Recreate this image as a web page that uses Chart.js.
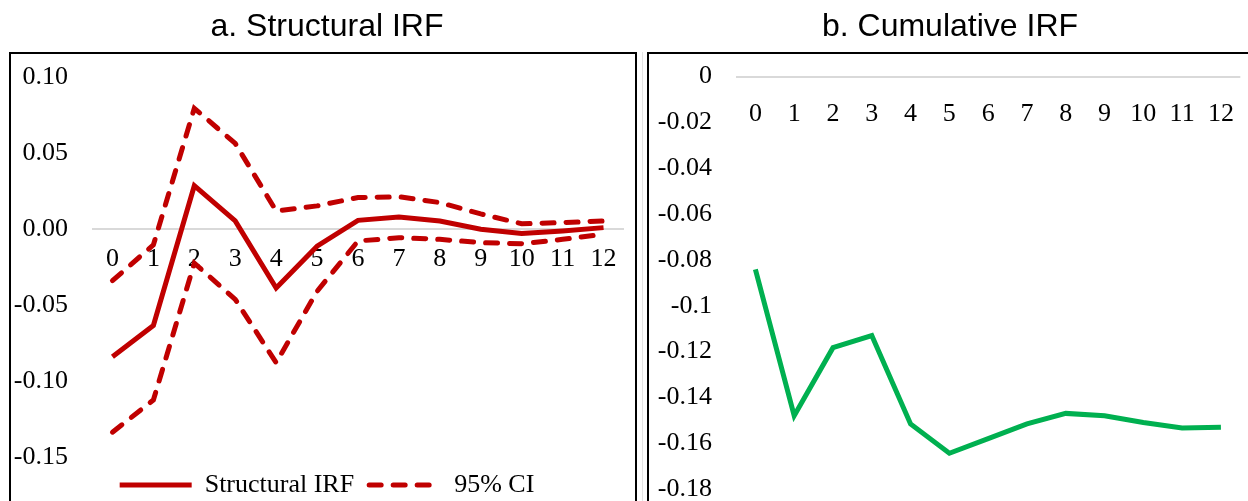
<!DOCTYPE html>
<html>
<head>
<meta charset="utf-8">
<script src="https://cdn.jsdelivr.net/npm/chart.js@4.4.1/dist/chart.umd.min.js"></script>
<style>
  body { margin: 0; background: #fff; overflow: hidden; }
  .wrap { position: absolute; top: 0; }
  .box { position: absolute; border: 2px solid #000; box-sizing: border-box; pointer-events: none; }
</style>
</head>
<body>
<div class="wrap" style="left:0; width:640px; height:508px;"><canvas id="structIrf"></canvas></div>
<div class="wrap" style="left:640px; width:608px; height:526px;"><canvas id="cumIrf"></canvas></div>
<div class="box" style="left:9px; top:52px; width:628px; height:480px;"></div>
<div class="box" style="left:647px; top:52px; width:620px; height:480px;"></div>
<div style="position:absolute; left:642px; top:52px; width:1px; height:460px; background:#e3e3e3;"></div>

<script>
// horizons and values
const horizons = ["0", "1", "2", "3", "4", "5", "6", "7", "8", "9", "10", "11", "12"];

const structIrf = [-0.084, -0.0635, 0.0285, 0.0053, -0.0388, -0.0113, 0.0057, 0.0079, 0.0053, -0.0002, -0.003, -0.0013, 0.0009];
const ciUpper = [-0.034, -0.0105, 0.0794, 0.0563, 0.0119, 0.0152, 0.0207, 0.0212, 0.0174, 0.0099, 0.0035, 0.0042, 0.0053];
const ciLower = [-0.1337, -0.1125, -0.0225, -0.0463, -0.088, -0.041, -0.0079, -0.0057, -0.0068, -0.009, -0.0097, -0.0068, -0.0035];

const cumIrf = [-0.0841, -0.148, -0.1183, -0.113, -0.1516, -0.1644, -0.158, -0.1516, -0.147, -0.148, -0.151, -0.1534, -0.153];

const red = "#C00000";
const green = "#00B050";
const serif = "'Liberation Serif', 'Times New Roman', serif";
const sans = "'Liberation Sans', Arial, sans-serif";

const zeroGrid = (ctx) => Math.abs(ctx.tick.value) < 1e-9 ? "#d9d9d9" : "rgba(0,0,0,0)";

// y labels get clipped to the scale box, so let it start at the canvas edge
const yLabelRoom = { id: "yLabelRoom", afterLayout(chart) { chart.scales.y.left = 0; } };

function makeScales(yMin, yMax, step, fmt, yWidth, xPad) {
  return {
    x: {
      position: { y: 0 },
      offset: true,
      grid: { display: false },
      border: { display: false },
      ticks: { color: "#000", font: { family: serif, size: 26 }, padding: xPad, maxRotation: 0, autoSkip: false }
    },
    y: {
      min: yMin,
      max: yMax,
      grid: { color: zeroGrid, lineWidth: 2, drawTicks: false },
      border: { display: false },
      ticks: { stepSize: step, color: "#000", font: { family: serif, size: 26, lineHeight: 1 }, padding: 24, callback: fmt },
      afterFit: (scale) => { scale.width = yWidth; }
    }
  };
}

// legend samples: keep the dash of the dataset line
function legendItems(chart) {
  return Chart.defaults.plugins.legend.labels.generateLabels(chart)
    .filter((item) => item.datasetIndex < 2)
    .map((item) => {
      const ds = chart.data.datasets[item.datasetIndex];
      item.lineDash = ds.borderDash || [];
      item.lineCap = ds.borderCapStyle || "butt";
      return item;
    });
}

const data1 = {
  labels: horizons,
  datasets: [
    { label: "Structural IRF", data: structIrf, borderColor: red, backgroundColor: red, borderWidth: 5, pointRadius: 0, tension: 0 },
    { label: "95% CI", data: ciUpper, borderColor: red, backgroundColor: red, borderWidth: 5, borderDash: [12, 12], borderCapStyle: "round", pointRadius: 0, tension: 0 },
    { label: "95% CI", data: ciLower, borderColor: red, backgroundColor: red, borderWidth: 5, borderDash: [12, 12], borderCapStyle: "round", pointRadius: 0, tension: 0 }
  ]
};

new Chart(document.getElementById("structIrf"), {
  type: "line",
  data: data1,
  plugins: [yLabelRoom],
  options: {
    responsive: true,
    maintainAspectRatio: false,
    animation: false,
    layout: { padding: { left: 30, right: 16, top: 0, bottom: 0 } },
    plugins: {
      title: { display: true, text: "a. Structural IRF", color: "#000", font: { family: sans, size: 32, weight: "normal" }, padding: { top: 7.8, bottom: 30.8 } },
      legend: {
        position: "bottom",
        labels: {
          color: "#000",
          font: { family: serif, size: 26 },
          usePointStyle: true,
          pointStyle: "line",
          pointStyleWidth: 72,
          padding: 15,
          generateLabels: legendItems
        }
      },
      tooltip: { enabled: false }
    },
    scales: makeScales(-0.15, 0.10, 0.05, (v) => (Math.round(v * 100) / 100).toFixed(2), 62, 7)
  }
});

const data2 = {
  labels: horizons,
  datasets: [
    { label: "Cumulative IRF", data: cumIrf, borderColor: green, backgroundColor: green, borderWidth: 5, pointRadius: 0, tension: 0 }
  ]
};

new Chart(document.getElementById("cumIrf"), {
  type: "line",
  data: data2,
  options: {
    responsive: true,
    maintainAspectRatio: false,
    animation: false,
    layout: { padding: { left: 14, right: 2, top: 0, bottom: 14 } },
    plugins: {
      title: { display: true, text: "b. Cumulative IRF", color: "#000", font: { family: sans, size: 32, weight: "normal" }, padding: { top: 7.8, bottom: 30.4 } },
      legend: { display: false },
      tooltip: { enabled: false }
    },
    scales: makeScales(-0.18, 0, 0.02, (v) => String(Math.round(v * 100) / 100), 82, 14)
  }
});
</script>
</body>
</html>
